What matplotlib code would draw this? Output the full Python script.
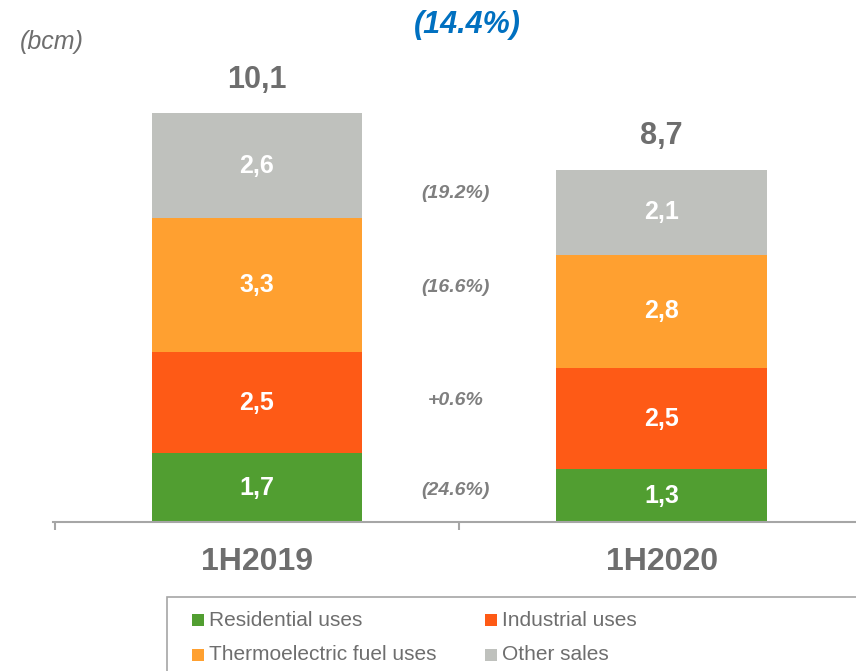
import numpy as np
import matplotlib.pyplot as plt
from matplotlib.patches import Rectangle

plt.rcParams['font.family'] = ['Liberation Sans', 'DejaVu Sans']

# data
periods = ['1H2019', '1H2020']
residential = [1.7, 1.3]
industrial = [2.5, 2.5]
thermo = [3.3, 2.8]
other = [2.6, 2.1]
totals = ['10,1', '8,7']
changes = ['(24.6%)', '+0.6%', '(16.6%)', '(19.2%)']
total_change = '(14.4%)'
series_names = ['Residential uses', 'Industrial uses', 'Thermoelectric fuel uses', 'Other sales']
colors = ['#519E31', '#FE5A16', '#FFA030', '#BFC1BD']

fig = plt.figure(figsize=(8.56, 6.71), dpi=100)
ax = fig.add_axes([53 / 856, 149 / 671, 803 / 856, 522 / 671])

x = np.arange(len(periods))
width = 0.52
series = [residential, industrial, thermo, other]
bottom = np.zeros(len(periods))
for vals, col in zip(series, colors):
    vals = np.array(vals)
    ax.bar(x, vals, width, bottom=bottom, color=col, edgecolor='none')
    for xi, b, v in zip(x, bottom, vals):
        ax.text(xi, b + v / 2, f'{v:.1f}'.replace('.', ','), ha='center', va='center',
                color='white', fontsize=18, fontweight='bold')
    bottom += vals

# totals above bars
for xi, top, t in zip(x, bottom, totals):
    ax.text(xi, top + 0.82, t, ha='center', va='center', color='#6E6E6E',
            fontsize=22, fontweight='bold')

# change labels between the bars
change_y = [0.79, 3.0, 5.78, 8.12]
for c, yv in zip(changes, change_y):
    ax.text(0.49, yv, c, ha='center', va='center', color='#7F7F7F',
            fontsize=14, fontweight='bold', style='italic')

ax.set_xlim(-0.504, 1.48)
ax.set_ylim(0, 522 / 40.5)

for s in ['top', 'right', 'left']:
    ax.spines[s].set_visible(False)
ax.spines['bottom'].set_color('#A6A6A6')
ax.spines['bottom'].set_linewidth(1.5)
ax.set_yticks([])
ax.set_xticks(x)
ax.set_xticklabels(periods, fontsize=23, fontweight='bold', color='#6E6E6E')
ax.tick_params(axis='x', which='major', length=0, pad=18)
ax.set_xticks([-0.5, 0.5], minor=True)
ax.tick_params(axis='x', which='minor', length=6, width=1.5, color='#A6A6A6', direction='out')

fig.text(52 / 856, 1 - 42 / 671, '(bcm)', ha='center', va='center', color='#6E6E6E',
         fontsize=18, style='italic')
fig.text(467 / 856, 1 - 25 / 671, total_change, ha='center', va='center', color='#0070C0',
         fontsize=22, fontweight='bold', style='italic')

# legend box (runs off the right and bottom edges, as in the source slide)
fig.patches.append(Rectangle((167 / 856, -0.1), 0.9, 0.1 + 74 / 671, transform=fig.transFigure,
                             facecolor='white', edgecolor='#A6A6A6', linewidth=1.2))
leg_x = [192, 485, 192, 485]
leg_y = [620, 620, 655, 655]
for name, col, lx, ly in zip(series_names, colors, leg_x, leg_y):
    fig.patches.append(Rectangle((lx / 856, 1 - (ly + 6) / 671), 12 / 856, 12 / 671,
                                 transform=fig.transFigure, facecolor=col, edgecolor='none'))
    fig.text((lx + 17) / 856, 1 - ly / 671, name, ha='left', va='center', color='#6E6E6E',
             fontsize=15)

fig.savefig('out.png', dpi=100)
